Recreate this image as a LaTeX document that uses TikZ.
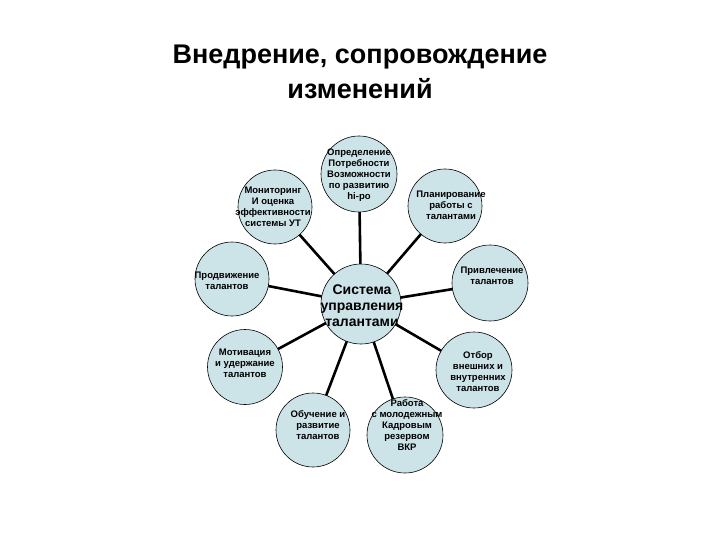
\documentclass[tikz,border=0pt]{standalone}
\usepackage{fontspec}
\setmainfont{Liberation Sans}
\begin{document}
\begin{tikzpicture}[x=1pt,y=-1pt,
  circ/.style={circle,inner sep=0pt,minimum size=#1},
  txt/.style={align=center,font=\bfseries\fontsize{9.5}{11}\selectfont},
  spoke/.style={line width=2.6pt}]
\definecolor{cfill}{RGB}{204,227,232}
\useasboundingbox (0,0) rectangle (720,540);
\node[font=\bfseries\fontsize{27}{35}\selectfont,align=center] (title) at (360,72) {Внедрение, сопровождение\\изменений};
% circle anchors
\node[circ=80pt] (c) at (361,304) {};
\node[circ=76pt] (n1) at (359,174) {};
\node[circ=74pt] (n2) at (275,207) {};
\node[circ=74pt] (n3) at (445,206) {};
\node[circ=74pt] (n4) at (232,279) {};
\node[circ=76pt] (n5) at (490,283) {};
\node[circ=75pt] (n6) at (245,367) {};
\node[circ=76pt] (n7) at (474,370) {};
\node[circ=74pt] (n8) at (313,430) {};
\node[circ=76pt] (n9) at (405,435) {};
\foreach \n in {n1,n2,n3,n4,n5,n6,n7,n8,n9}{\draw[spoke] (c.center) -- (\n.center);}
\foreach \n/\r in {c/40,n1/38,n2/37,n3/37,n4/37,n5/38,n6/37.5,n7/38,n8/37,n9/38}{
  \fill[cfill,draw=black,line width=0.6pt] (\n.center) circle (\r pt);}
% texts
\node[txt] (t1) at (359,175) {Определение\\Потребности\\Возможности\\по развитию\\hi-po};
\node[txt] (t2) at (273,207) {Мониторинг\\И оценка\\эффективности\\системы УТ};
\node[txt] (t3) at (451,205) {Планирование\\работы с\\талантами};
\node[txt] (t4) at (227,281) {Продвижение\\талантов};
\node[txt] (t5) at (492,276) {Привлечение\\талантов};
\node[txt] (t6) at (245,363) {Мотивация\\и удержание\\талантов};
\node[txt] (t7) at (478,372) {Отбор\\внешних и\\внутренних\\талантов};
\node[txt] (t8) at (318,425) {Обучение и\\развитие\\талантов};
\node[txt] (t9) at (407,425) {Работа\\с молодежным\\Кадровым\\резервом\\ВКР};
\node[align=center,font=\bfseries\fontsize{14}{16}\selectfont] (tc) at (362,306) {Система\\управления\\талантами};
\end{tikzpicture}
\end{document}
